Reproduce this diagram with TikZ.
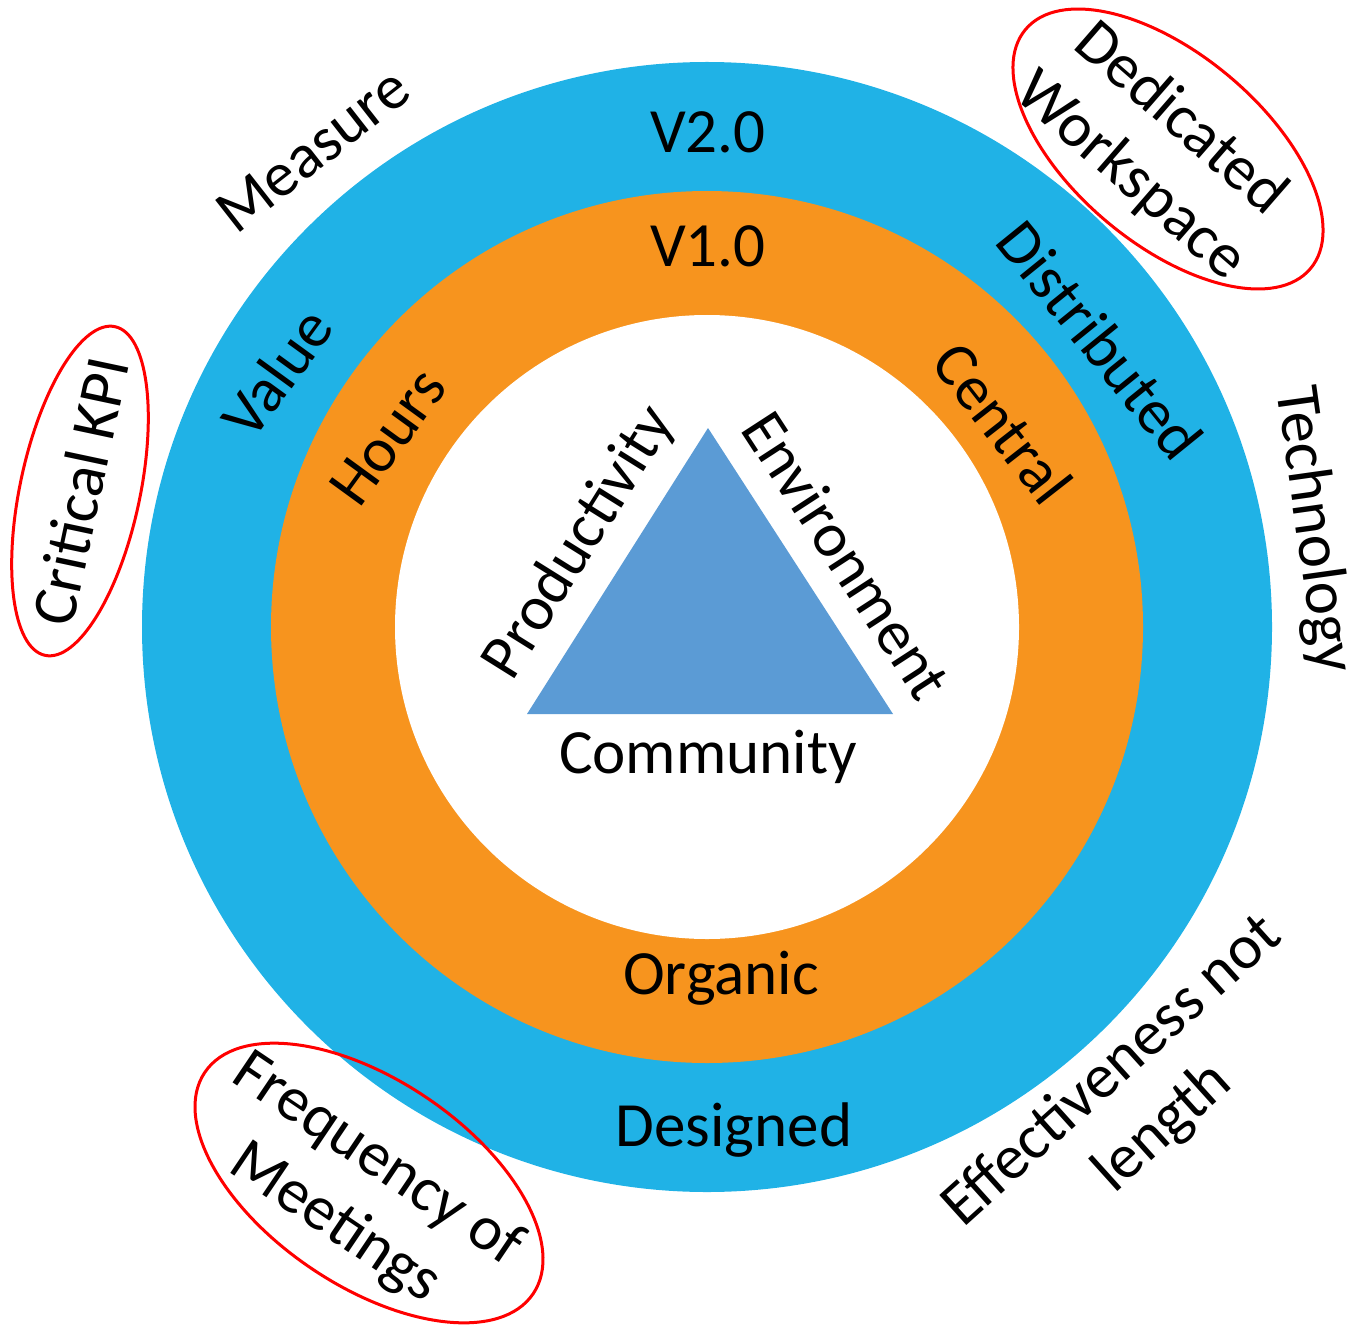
\documentclass[tikz,border=0pt]{standalone}
\usepackage{fontspec}
\setmainfont{Carlito}
\usepackage{xcolor}
\usepackage{tikz}
\usetikzlibrary{shapes,arrows,positioning,calc}
\definecolor{ringblue}{RGB}{32,178,230}
\definecolor{ringorange}{RGB}{247,148,30}
\definecolor{triblue}{RGB}{91,155,213}

\begin{document}
\begin{tikzpicture}[x=0.5pt,y=-0.5pt,
  lbl/.style={font=\fontsize{31.5}{38}\selectfont,inner sep=0pt,align=center},
  kpiring/.style={draw=red,line width=1.5pt}]
\useasboundingbox (0,0) rectangle (1363,1326);
% rings
\fill[ringblue] (707,627) circle (282.5pt);
\fill[ringorange] (707,627) circle (218pt);
\fill[white] (707,627) circle (156pt);
\fill[triblue] (708,428) -- (527,714) -- (893,714) -- cycle;
% ring labels
\node[lbl] (v2) at (708,132) {V2.0};
\node[lbl] (v1) at (708,246) {V1.0};
\node[lbl] (organic) at (721,978) {Organic};
\node[lbl] (designed) at (734,1130) {Designed};
\node[lbl,rotate=54] (value) at (277,373) {Value};
\node[lbl,rotate=54] (hours) at (388,437) {Hours};
\node[lbl,rotate=-51] (distributed) at (1100,340) {Distributed};
\node[lbl,rotate=-52] (central) at (1003,423) {Central};
% triangle labels
\node[lbl] (community) at (708,757) {Community};
\node[lbl,rotate=58] (productivity) at (580,543) {Productivity};
\node[lbl,rotate=-57] (environment) at (847,555) {Environment};
% outside labels
\node[lbl,rotate=38] (measure) at (313,150) {Measure};
\node[lbl,rotate=-82] (technology) at (1313,530) {Technology};
\node[lbl,rotate=42] (effective) at (1138,1100) {Effectiveness not\\length};
\node[lbl,rotate=78] (kpi) at (80,491) {Critical KPI};
\node[lbl,rotate=-41] (workspace) at (1155,148) {Dedicated\\Workspace};
\node[lbl,rotate=-34] (meetings) at (356,1192) {Frequency of\\Meetings};
\draw[kpiring,rotate around={78:(80,491)}] (80,491) ellipse [x radius=84pt,y radius=30pt];
\draw[kpiring,rotate around={-40:(1168,149)}] (1168,149) ellipse [x radius=93pt,y radius=47.5pt];
\draw[kpiring,rotate around={-34:(369,1183)}] (369,1183) ellipse [x radius=99pt,y radius=51.5pt];
\end{tikzpicture}
\end{document}
